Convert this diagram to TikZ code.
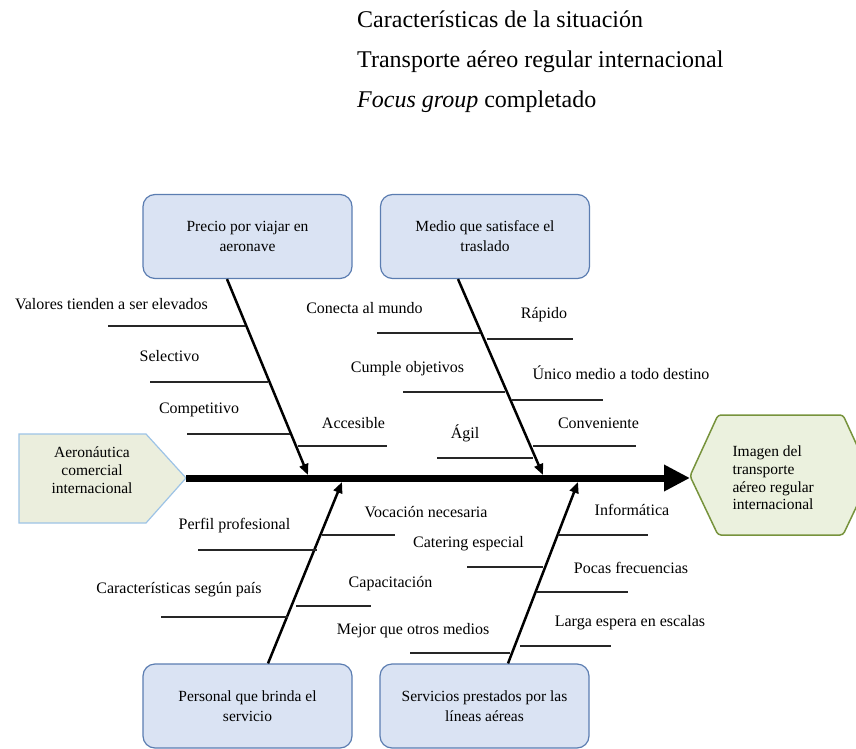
\documentclass[tikz,border=0pt]{standalone}
\usepackage{fontspec}
\setmainfont{Liberation Serif}
\usetikzlibrary{arrows.meta}
\definecolor{boxfill}{HTML}{DAE3F3}
\definecolor{boxline}{HTML}{5B7DB1}
\definecolor{headfill}{HTML}{EBF1DE}
\definecolor{headline}{HTML}{77933C}
\definecolor{tailfill}{HTML}{EBEEDD}
\definecolor{tailline}{HTML}{9DC3E6}

\tikzset{
  cause/.style={draw=boxline, line width=1.2pt, fill=boxfill, rounded corners=12pt,
    minimum width=209pt, minimum height=84pt, align=center,
    font=\fontsize{15.5}{20}\selectfont},
  bone/.style={line width=2.5pt, -{Triangle[length=11pt,width=9pt]}},
  sub/.style={line width=1.2pt, black!85},
  lbl/.style={font=\fontsize{16}{18}\selectfont, inner sep=0pt},
  title/.style={font=\fontsize{24}{28}\selectfont, inner sep=0pt, anchor=base west},
}

\begin{document}
\begin{tikzpicture}[x=1pt, y=-1pt]
    \useasboundingbox (0,0) rectangle (856,749);

    % Title lines
    \node[title] (t1) at (357,28) {Características de la situación};
    \node[title] (t2) at (357,68) {Transporte aéreo regular internacional};
    \node[title] (t3) at (357,108) {\textit{Focus group} completado};

    % Tail (left) and head (right)
    \draw[fill=tailfill, draw=tailline, line width=1.2pt]
        (19,434) -- (146,434) -- (186,478) -- (146,523) -- (19,523) -- cycle;
    \node[font=\fontsize{15.5}{18}\selectfont, align=center] (tail) at (92,470)
        {Aeronáutica\\comercial\\internacional};
    \coordinate (s0) at (186,478);

    \begin{scope}
        \clip (0,0) rectangle (856,749);
        \draw[fill=headfill, draw=headline, line width=1.5pt, rounded corners=3pt]
            (690,476) -- (718,415) -- (843,415) -- (871,476) -- (843,535) -- (718,535) -- cycle;
    \end{scope}
    \node[font=\fontsize{15.5}{17.7}\selectfont, align=left, anchor=west] (head) at (729,478)
        {Imagen del\\transporte\\aéreo regular\\internacional};
    \coordinate (s1) at (690,478);

    % Spine
    \draw[line width=7pt, -{Triangle[length=26pt,width=25pt]}] (s0) -- (s1);

    % Cause boxes
    \node[cause] (precio) at (247.5,236.5) {Precio por viajar en\\aeronave};
    \node[cause] (medio) at (485,236.5) {Medio que satisface el\\traslado};
    \node[cause] (personal) at (247.5,706) {Personal que brinda el\\servicio};
    \node[cause] (servicios) at (484.5,706) {Servicios prestados por las\\líneas aéreas};

    % Bones to the spine
    \coordinate (e1) at (308,475);
    \coordinate (e2) at (543,475);
    \coordinate (e3) at (342,482);
    \coordinate (e4) at (578,482);
    \draw[bone] ([xshift=-20.5pt]precio.south) -- (e1);
    \draw[bone] ([xshift=-27pt]medio.south) -- (e2);
    \draw[bone] ([xshift=20.5pt]personal.north) -- (e3);
    \draw[bone] ([xshift=23.5pt]servicios.north) -- (e4);

    % Sub-causes: line x1/x2/y, label x/y, text
    \foreach \xa/\xb/\yl/\xt/\yt/\txt [count=\i] in {
        108/245/326/111.5/304/Valores tienden a ser elevados,
        150/268/382/169.5/356/Selectivo,
        187/290/434/199/410/Competitivo,
        298/387/446/353.5/423/Accesible,
        377/480/333/364.5/308/Conecta al mundo,
        403/505/392/407.5/369/Cumple objetivos,
        437/533/458/465/433/Ágil,
        487/573/339/544/315/Rápido,
        512/603/400/621/373/Único medio a todo destino,
        533/636/446/598.5/423/Conveniente,
        198/317/550/234.5/526/Perfil profesional,
        161/288/617/179/590/Características según país,
        322/395/535/426/512/Vocación necesaria,
        296/371/606/390.5/584/Capacitación,
        410/510/653/413/631/Mejor que otros medios,
        467/543/567/468.5/544/Catering especial,
        558/648/535/632/510/Informática,
        537/628/592/631/568/Pocas frecuencias,
        520/611/646/630/623/Larga espera en escalas} {
        \draw[sub] (\xa,\yl) -- (\xb,\yl);
        \node[lbl] (c\i) at (\xt,\yt) {\txt};
    }

\end{tikzpicture}
\end{document}
